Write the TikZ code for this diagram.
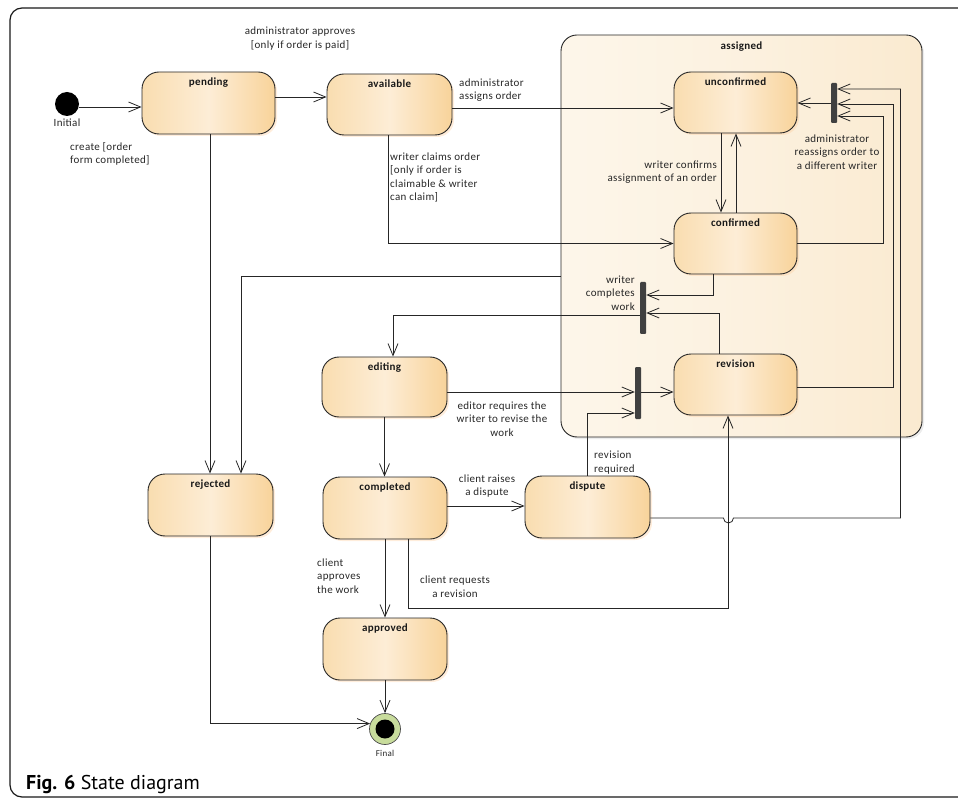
\documentclass[tikz,border=0pt]{standalone}
\usepackage{fontspec}
\setmainfont{Carlito}
\newfontfamily\lblfont[LetterSpace=3]{Carlito}
\newfontfamily\capfont{PT Sans}
\usetikzlibrary{arrows.meta,calc,shadows}
\definecolor{lineC}{HTML}{262626}
\definecolor{stL}{HTML}{F9DDB0}
\definecolor{stM}{HTML}{FDEDD6}
\definecolor{stR}{HTML}{F8D39A}
\definecolor{cpL}{HTML}{FDF6EA}
\definecolor{cpR}{HTML}{FAEAD0}
\definecolor{finG}{HTML}{C8DC9C}
\tikzset{
  lbl/.style={font=\lblfont\fontsize{11}{13.5}\selectfont, text=black!85, inner sep=0pt},
  titlef/.style={font=\lblfont\bfseries\fontsize{11}{12}\selectfont, text=black!90},
  stbox/.style={rectangle, rounded corners=17pt, minimum width=125pt, minimum height=61pt,
    inner sep=0pt, draw=lineC, line width=0.9pt, left color=stL, right color=stR, middle color=stM,
    general shadow={fill=orange!40!white, opacity=0.35, shadow xshift=2pt, shadow yshift=-2pt},
    label={[titlef, anchor=north, yshift=-3pt]north:#1}},
  barbox/.style={rectangle, rounded corners=1pt, fill=black!75, draw=none, minimum width=6pt, inner sep=0pt},
  arr/.style={draw=lineC, line width=0.8pt, -{Straight Barb[length=12pt,width=10pt,line width=0.8pt]}},
  ln/.style={draw=lineC, line width=0.8pt}
}
\begin{document}
\begin{tikzpicture}[x=1pt,y=-1pt]
\useasboundingbox (0,0) rectangle (958,799);
% outer frame
\draw[line width=1.2pt, black!90, rounded corners=12pt] (980,8) -- (10,8) -- (10,797) -- (980,797);

% composite state
\node[rectangle, rounded corners=16pt, minimum width=361pt, minimum height=402pt, inner sep=0pt,
  draw=lineC, line width=0.9pt, left color=cpL, right color=cpR, middle color=cpL!60!cpR,
  general shadow={fill=black!25, opacity=0.3, shadow xshift=2pt, shadow yshift=-2pt},
  label={[titlef, anchor=north, yshift=-4pt]north:assigned}] (assigned) at (741.5,236) {};

% states
\node[stbox=pending, minimum width=133pt, minimum height=62pt] (pending) at (208.5,103) {};
\node[stbox=available] (available) at (389.5,104.5) {};
\node[stbox=unconfirmed, minimum width=123pt] (unconfirmed) at (735.5,102.5) {};
\node[stbox=confirmed, minimum width=123pt] (confirmed) at (735.5,243.5) {};
\node[stbox=revision, minimum width=123pt] (revision) at (735.5,384.5) {};
\node[stbox=editing, minimum height=60pt] (editing) at (384.5,387) {};
\node[stbox=rejected, minimum height=62pt] (rejected) at (210.5,505) {};
\node[stbox=completed, minimum width=124pt, minimum height=62pt] (completed) at (385,508) {};
\node[stbox=dispute, minimum height=62pt] (dispute) at (587.5,507) {};
\node[stbox=approved, minimum width=124pt, minimum height=62pt] (approved) at (385,649) {};

% pseudo states
\node[circle, fill=black, minimum size=24pt, inner sep=0pt] (initial) at (67,104) {};
\node[lbl, font=\lblfont\fontsize{11}{12}\selectfont] (initlbl) at (67,123) {Initial};
\node[circle, fill=finG, draw=black!70, line width=0.7pt, minimum size=31pt, inner sep=0pt] (final) at (385,729) {};
\node[circle, fill=black, minimum size=19pt, inner sep=0pt] (finalin) at (final) {};
\node[lbl, font=\lblfont\fontsize{9}{10}\selectfont] (finlbl) at (385,753) {Final};

% bars
\node[barbox, minimum height=40pt] (bar1) at (834,103) {};
\node[barbox, minimum height=52pt] (bar2) at (643,308) {};
\node[barbox, minimum height=52pt] (bar3) at (638,393) {};

% connectors
\draw[arr] (initial.east |- 0,107) coordinate (i1) -- (i1 -| pending.west);
\draw[arr] ([yshift=6pt]pending.east) coordinate (s1) -- (s1 -| available.west);
\draw[arr] ([yshift=-3.5pt]available.east) coordinate (s2) -- (s2 -| unconfirmed.west);
\draw[arr] ([xshift=-1.5pt]available.south) |- (confirmed.west);
\draw[arr] ([xshift=-0.5pt]rejected.north |- pending.south) -- ([xshift=-0.5pt]rejected.north);
\draw[arr] ([yshift=-40pt]assigned.west) -| ([xshift=30.5pt]rejected.north);
\draw[arr] ([xshift=-14.5pt]unconfirmed.south) -- ([xshift=-14.5pt]confirmed.north);
\draw[arr] ([xshift=0.5pt]confirmed.north) -- ([xshift=0.5pt]unconfirmed.south);
\draw[arr] (bar1.west) -- (bar1.west -| unconfirmed.east);
\draw[arr] (confirmed.east) -- ++(86,0) |- ([yshift=-13pt]bar1.east);
\draw[arr] ([yshift=-2.5pt]revision.east) -- ++(96,0) |- ([yshift=-1pt]bar1.east);
\draw[arr] ([yshift=-11pt]dispute.east) -- ++(73,0) arc[start angle=180, end angle=0, radius=5]
  -- ++(167,0) |- ([yshift=14pt]bar1.east);
\draw[arr] ([xshift=-22.5pt]confirmed.south) |- ([yshift=13pt]bar2.east);
\draw[arr] ([xshift=-16.5pt]revision.north) |- ([yshift=-5pt]bar2.east);
\draw[arr] ([yshift=-7pt]bar2.west) -| ([xshift=8.5pt]editing.north);
\draw[arr] ([yshift=-5pt]editing.east) coordinate (s3) -- (s3 -| bar3.west);
\draw[arr] ([yshift=1pt]bar3.east) coordinate (s4) -- (s4 -| revision.west);
\draw[arr] (dispute.north) |- ([yshift=-20pt]bar3.west);
\draw[arr] (editing.south) -- (editing.south |- completed.north);
\draw[arr] ([yshift=2pt]completed.east) coordinate (s5) -- (s5 -| dispute.west);
\draw[arr] (completed.south) -- (approved.north);
\draw[arr] ([xshift=23pt]completed.south) -- ++(0,69) -| ([xshift=-7.5pt]revision.south);
\draw[arr] (rejected.south) |- (final.160);
\draw[arr] (approved.south) -- (final.north);

% labels
\node[lbl, align=center] (l1) at (300,38.5) {administrator approves\\{}[only if order is paid]};
\node[lbl, align=left, anchor=west] (l2) at (70,154) {create [order\\form completed]};
\node[lbl, align=left, anchor=west] (l3) at (459,90) {administrator\\assigns order};
\node[lbl, align=left, anchor=west] (l4) at (390,177.5) {writer claims order\\{}[only if order is\\claimable \& writer\\can claim]};
\node[lbl, align=right, anchor=east] (l5) at (717,172) {writer confirms\\assignment of an order};
\node[lbl, align=center] (l6) at (837,152) {administrator\\reassigns order to\\a different writer};
\node[lbl, align=right, anchor=east] (l7) at (635,293) {writer\\completes\\work};
\node[lbl, align=center] (l8) at (502,419) {editor requires the\\writer to revise the\\work};
\node[lbl, align=left, anchor=west] (l9) at (594,462.5) {revision\\required};
\node[lbl, align=center] (l10) at (487,486) {client raises\\a dispute};
\node[lbl, align=left, anchor=west] (l11) at (317,576) {client\\approves\\the work};
\node[lbl, align=center] (l12) at (455,586.5) {client requests\\a revision};

% caption
\node[anchor=base west, inner sep=0pt, font=\capfont\fontsize{20}{22}\selectfont] (cap) at (26,789) {\textbf{Fig. 6} State diagram};
\end{tikzpicture}
\end{document}
